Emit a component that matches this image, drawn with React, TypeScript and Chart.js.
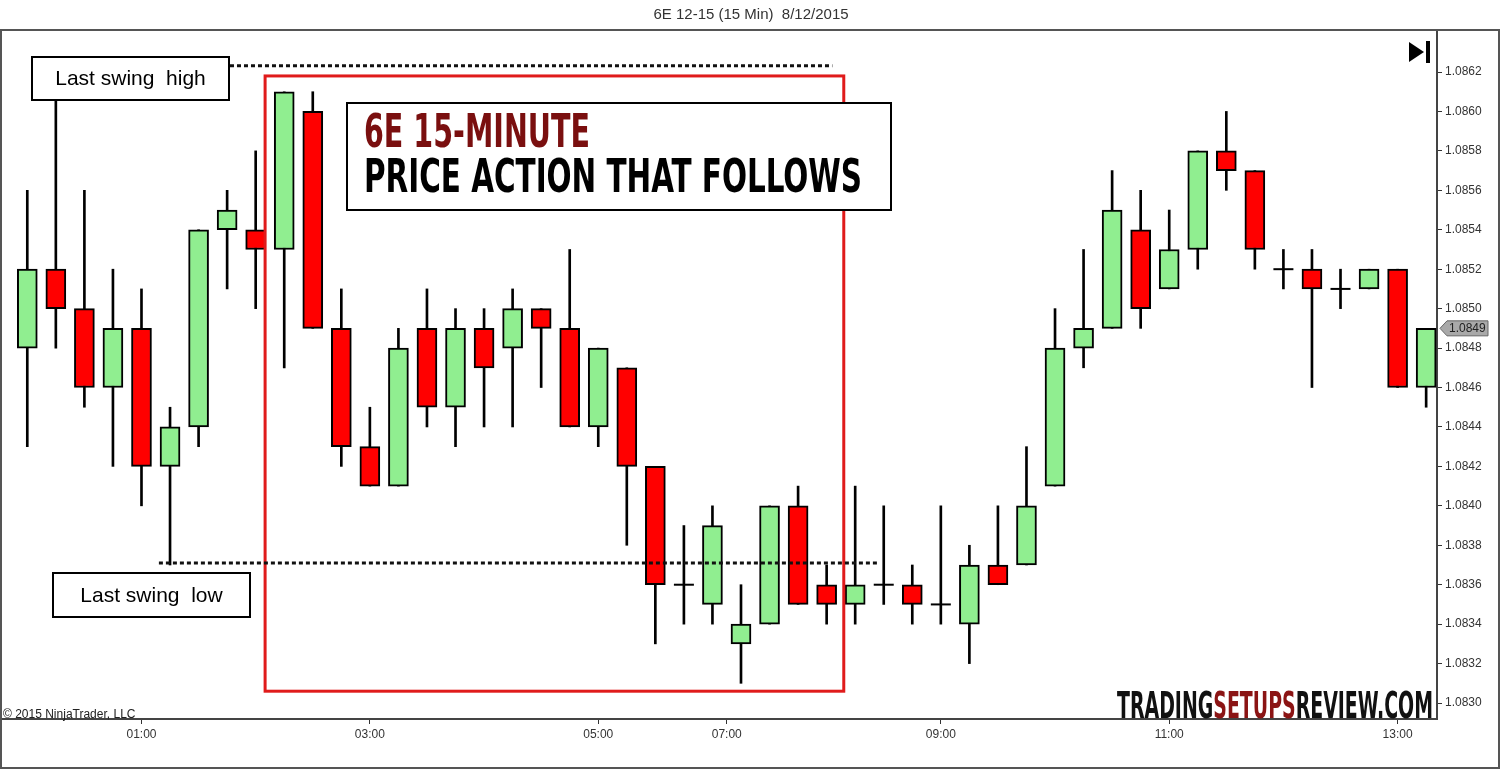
import React, { useEffect, useRef } from "react";
import { Chart, registerables } from "chart.js";

Chart.register(...registerables);

// ---- data (15-minute bars, 6E 12-15, 8/12/2015) ----
const OPEN = [
  1.0848, 1.0852, 1.085, 1.0846, 1.0849, 1.0842, 1.0844, 1.0854, 1.0854, 1.0853,
  1.086, 1.0849, 1.0843, 1.0841, 1.0849, 1.0845, 1.0849, 1.0848, 1.085, 1.0849,
  1.0844, 1.0847, 1.0842, 1.0836, 1.0835, 1.0833, 1.0834, 1.084, 1.0836, 1.0835,
  1.0836, 1.0836, 1.0835, 1.0834, 1.0837, 1.0837, 1.0841, 1.0848, 1.0849, 1.0854,
  1.0851, 1.0853, 1.0858, 1.0857, 1.0852, 1.0852, 1.0851, 1.0851, 1.0852, 1.0846,
];
const HIGH = [
  1.0856, 1.0862, 1.0856, 1.0852, 1.0851, 1.0845, 1.0854, 1.0856, 1.0858, 1.0861,
  1.0861, 1.0851, 1.0845, 1.0849, 1.0851, 1.085, 1.085, 1.0851, 1.085, 1.0853,
  1.0848, 1.0847, 1.0842, 1.0839, 1.084, 1.0836, 1.084, 1.0841, 1.0837, 1.0841,
  1.084, 1.0837, 1.084, 1.0838, 1.084, 1.0843, 1.085, 1.0853, 1.0857, 1.0856,
  1.0855, 1.0858, 1.086, 1.0857, 1.0853, 1.0853, 1.0852, 1.0852, 1.0852, 1.0849,
];
const LOW = [
  1.0843, 1.0848, 1.0845, 1.0842, 1.084, 1.0837, 1.0843, 1.0851, 1.085, 1.0847,
  1.0849, 1.0842, 1.0841, 1.0841, 1.0844, 1.0843, 1.0844, 1.0844, 1.0846, 1.0844,
  1.0843, 1.0838, 1.0833, 1.0834, 1.0834, 1.0831, 1.0834, 1.0835, 1.0834, 1.0834,
  1.0835, 1.0834, 1.0834, 1.0832, 1.0836, 1.0837, 1.0841, 1.0847, 1.0849, 1.0849,
  1.0851, 1.0852, 1.0856, 1.0852, 1.0851, 1.0846, 1.085, 1.0851, 1.0846, 1.0845,
];
const CLOSE = [
  1.0852, 1.085, 1.0846, 1.0849, 1.0842, 1.0844, 1.0854, 1.0855, 1.0853, 1.0861,
  1.0849, 1.0843, 1.0841, 1.0848, 1.0845, 1.0849, 1.0847, 1.085, 1.0849, 1.0844,
  1.0848, 1.0842, 1.0836, 1.0836, 1.0839, 1.0834, 1.084, 1.0835, 1.0835, 1.0836,
  1.0836, 1.0835, 1.0835, 1.0837, 1.0836, 1.084, 1.0848, 1.0849, 1.0855, 1.085,
  1.0853, 1.0858, 1.0857, 1.0853, 1.0852, 1.0851, 1.0851, 1.0852, 1.0846, 1.0849,
];

const PRICE_TICKS = [
  1.083, 1.0832, 1.0834, 1.0836, 1.0838, 1.084, 1.0842, 1.0844, 1.0846,
  1.0848, 1.085, 1.0852, 1.0854, 1.0856, 1.0858, 1.086, 1.0862,
];
const TIME_LABELS = ["01:00", "03:00", "05:00", "07:00", "09:00", "11:00", "13:00"];
const TIME_TICK_POS = [4, 12, 20, 24.5, 32, 40, 48];

const CHART_TITLE = "6E 12-15 (15 Min)  8/12/2015";
const SWING_HIGH = 1.086232;
const SWING_LOW = 1.08371;

// ---- styling / layout ----
const SANS = '"Liberation Sans", Arial, sans-serif';
const NARROW = '"Liberation Sans Narrow", "DejaVu Sans Condensed", "Liberation Sans", sans-serif';
const UP = "#90EE90";
const DOWN = "#FF0000";
const X_MIN = -0.886;
const X_MAX = 49.38;
const Y_MIN = 1.082919;
const Y_MAX = 1.086413;

function fitText(ctx: CanvasRenderingContext2D, parts: [string, string][], x: number, baseline: number, width: number, font: string) {
  ctx.save();
  ctx.font = font;
  ctx.textBaseline = "alphabetic";
  ctx.textAlign = "left";
  const full = parts.map((p) => p[0]).join("");
  const w = ctx.measureText(full).width;
  const sx = width / w;
  ctx.translate(x, baseline);
  ctx.scale(sx, 1);
  let cx = 0;
  for (const [t, c] of parts) {
    ctx.fillStyle = c;
    ctx.fillText(t, cx, 0);
    cx += ctx.measureText(t).width;
  }
  ctx.restore();
}

const overlayPlugin = {
  id: "overlay",
  afterDatasetsDraw(chart: any) {
    const ctx: CanvasRenderingContext2D = chart.ctx;
    const xs = chart.scales.x;
    const ys = chart.scales.y;
    const px = (v: number) => xs.getPixelForValue(v);
    const py = (v: number) => ys.getPixelForValue(v);

    ctx.save();
    // red box around the price action that follows
    ctx.strokeStyle = "#e01b1b";
    ctx.lineWidth = 3;
    ctx.strokeRect(px(8.33), py(1.08618), px(28.6) - px(8.33), py(1.08306) - py(1.08618));

    // dotted swing lines
    ctx.strokeStyle = "#111";
    ctx.lineWidth = 3;
    ctx.setLineDash([4, 3]);
    ctx.beginPath();
    ctx.moveTo(px(7.1), py(SWING_HIGH));
    ctx.lineTo(px(28.2), py(SWING_HIGH));
    ctx.moveTo(px(4.61), py(SWING_LOW));
    ctx.lineTo(px(29.83), py(SWING_LOW));
    ctx.stroke();
    ctx.setLineDash([]);

    // label boxes
    const box = (x0: number, y0: number, x1: number, y1: number) => {
      ctx.fillStyle = "#fff";
      ctx.fillRect(x0, y0, x1 - x0, y1 - y0);
      ctx.strokeStyle = "#000";
      ctx.lineWidth = 2;
      ctx.strokeRect(x0, y0, x1 - x0, y1 - y0);
    };
    box(32, 57, 229, 100);
    box(53, 573, 250, 617);
    ctx.fillStyle = "#000";
    ctx.font = `21px ${SANS}`;
    ctx.textAlign = "center";
    ctx.textBaseline = "middle";
    ctx.fillText("Last swing  high", 130.5, 79);
    ctx.fillText("Last swing  low", 151.5, 596);

    // headline box
    box(347, 103, 891, 210);
    fitText(ctx, [["6E 15-MINUTE", "#7a0f0f"]], 364, 147, 226, `bold 46px ${NARROW}`);
    fitText(ctx, [["PRICE ACTION THAT FOLLOWS", "#000"]], 364, 192, 498, `bold 46px ${NARROW}`);

    // watermark
    fitText(
      ctx,
      [["TRADING", "#111"], ["SETUPS", "#8b1414"], ["REVIEW.COM", "#111"]],
      1117, 718, 316, `bold 38px ${NARROW}`
    );

    // copyright
    ctx.fillStyle = "#222";
    ctx.font = `12px ${SANS}`;
    ctx.textAlign = "left";
    ctx.textBaseline = "alphabetic";
    ctx.fillText("\u00A9 2015 NinjaTrader, LLC", 3, 718);

    // frame
    ctx.strokeStyle = "#555";
    ctx.lineWidth = 2;
    ctx.strokeRect(1, 30, 1498, 738);

    // play-to-end icon
    ctx.fillStyle = "#000";
    ctx.beginPath();
    ctx.moveTo(1409, 42);
    ctx.lineTo(1409, 62);
    ctx.lineTo(1424, 52);
    ctx.closePath();
    ctx.fill();
    ctx.fillRect(1426, 41, 4, 22);

    // last price marker
    const last = CLOSE[CLOSE.length - 1];
    const ly = py(last);
    const ax = chart.chartArea.right + 3;
    ctx.beginPath();
    ctx.moveTo(ax, ly);
    ctx.lineTo(ax + 7, ly - 7.5);
    ctx.lineTo(1488, ly - 7.5);
    ctx.lineTo(1488, ly + 7.5);
    ctx.lineTo(ax + 7, ly + 7.5);
    ctx.closePath();
    ctx.fillStyle = "#a9a9a9";
    ctx.fill();
    ctx.strokeStyle = "#666";
    ctx.lineWidth = 1;
    ctx.stroke();
    ctx.fillStyle = "#222";
    ctx.font = `12px ${SANS}`;
    ctx.textBaseline = "middle";
    ctx.fillText(last.toFixed(4), ax + 9, ly + 0.5);
    ctx.restore();
  },
};

export default function App() {
  const ref = useRef<HTMLCanvasElement | null>(null);

  useEffect(() => {
    if (!ref.current) return;
    const idx = OPEN.map((_, i) => i);
    const wicks = idx.map((i) => ({ x: i, y: [LOW[i], HIGH[i]] }));
    const bodies = idx.map((i) => ({ x: i, y: [OPEN[i], CLOSE[i]] }));
    const bodyColors = idx.map((i) => (CLOSE[i] > OPEN[i] ? UP : DOWN));
    const doji = idx.filter((i) => OPEN[i] === CLOSE[i]).map((i) => ({ x: i, y: CLOSE[i] }));

    const chart = new Chart(ref.current, {
      type: "bar",
      data: {
        datasets: [
          {
            type: "bar",
            data: wicks as any,
            backgroundColor: "#000",
            borderWidth: 0,
            barThickness: 2,
            grouped: false,
            order: 3,
          } as any,
          {
            type: "bar",
            data: bodies as any,
            backgroundColor: bodyColors,
            borderColor: "#000",
            borderWidth: 2,
            borderSkipped: false,
            barThickness: 20,
            grouped: false,
            order: 2,
          } as any,
          {
            type: "scatter",
            data: doji as any,
            pointStyle: "line",
            pointRadius: 10,
            borderColor: "#000",
            borderWidth: 2,
            order: 1,
          } as any,
        ],
      },
      options: {
        animation: false,
        responsive: false,
        maintainAspectRatio: false,
        events: [],
        layout: { autoPadding: false, padding: { left: 2, right: 0, top: 0, bottom: 0 } },
        plugins: {
          legend: { display: false },
          tooltip: { enabled: false },
          title: {
            display: true,
            text: CHART_TITLE,
            color: "#333",
            font: { family: SANS, size: 15, weight: "normal", lineHeight: 1 },
            padding: { top: 7, bottom: 8 },
          },
        },
        scales: {
          x: {
            type: "linear",
            min: X_MIN,
            max: X_MAX,
            offset: false,
            afterBuildTicks: (s: any) => {
              s.ticks = TIME_TICK_POS.map((v) => ({ value: v }));
            },
            afterFit: (s: any) => {
              s.height = 52;
              s.paddingLeft = 0;
              s.paddingRight = 0;
            },
            ticks: {
              autoSkip: false,
              maxRotation: 0,
              color: "#333",
              font: { family: SANS, size: 12 },
              padding: 3,
              callback: (_v: any, i: number) => TIME_LABELS[i],
            },
            grid: { display: true, drawOnChartArea: false, tickLength: 5, color: "#333", offset: false },
            border: { display: true, color: "#444", width: 2 },
          },
          y: {
            type: "linear",
            position: "right",
            min: Y_MIN,
            max: Y_MAX,
            beginAtZero: false,
            afterBuildTicks: (s: any) => {
              s.ticks = PRICE_TICKS.map((v) => ({ value: v }));
            },
            afterFit: (s: any) => {
              s.width = 63;
              s.paddingTop = 0;
              s.paddingBottom = 0;
            },
            ticks: {
              color: "#333",
              font: { family: SANS, size: 12 },
              padding: 3,
              callback: (v: any) => Number(v).toFixed(4),
            },
            grid: { display: true, drawOnChartArea: false, tickLength: 5, color: "#333" },
            border: { display: true, color: "#444", width: 2 },
          },
        },
      } as any,
      plugins: [overlayPlugin],
    });
    return () => chart.destroy();
  }, []);

  return (
    <div style={{ position: "absolute", left: 0, top: 0, width: 1500, height: 771, background: "#fff" }}>
      <canvas ref={ref} width={1500} height={771} style={{ display: "block" }} />
    </div>
  );
}
